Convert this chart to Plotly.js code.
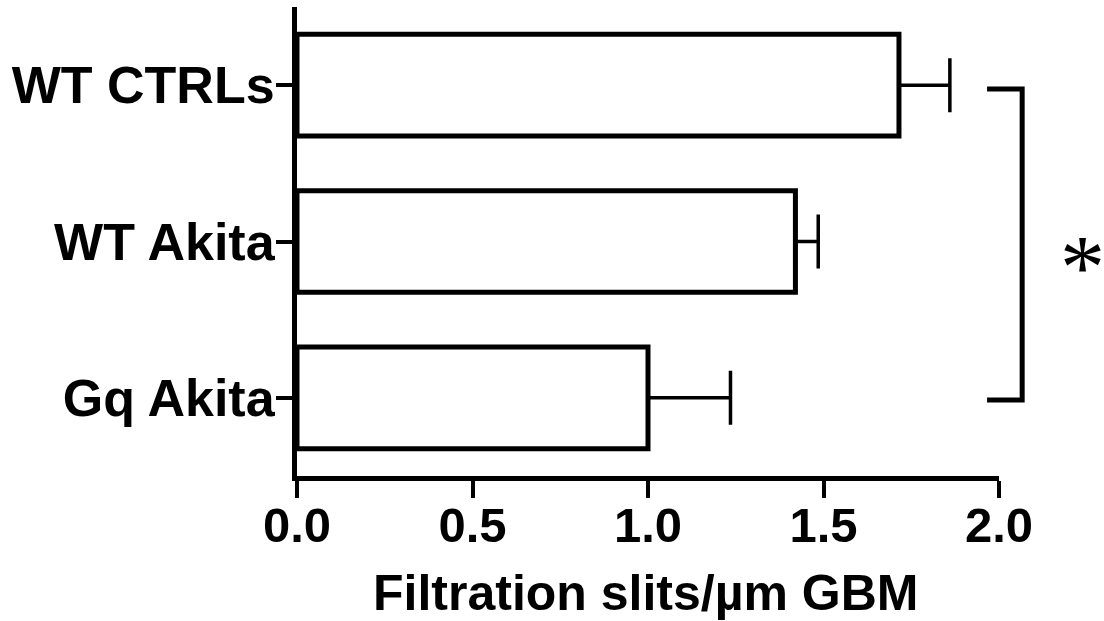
<!DOCTYPE html>
<html>
<head>
<meta charset="utf-8">
<script src="https://cdn.plot.ly/plotly-3.0.1.min.js"></script>
<style>
  html, body { margin: 0; padding: 0; background: #fff; }
  #chart { width: 1104px; height: 621px; }
</style>
</head>
<body>
<div id="chart"></div>
<script>
const categories = ['WT CTRLs', 'WT Akita', 'Gq Akita'];
const means = [1.715, 1.42, 1.00];
const sem = [0.145, 0.065, 0.235];
const xTickVals = [0, 0.5, 1.0, 1.5, 2.0];
const xTickText = ['0.0', '0.5', '1.0', '1.5', '2.0'];
const xTitle = 'Filtration slits/µm GBM';
const sigLabel = '*';

const FONT = 'Liberation Sans, Arial, sans-serif';

const trace = {
  type: 'bar',
  orientation: 'h',
  x: means,
  y: categories,
  width: 0.65,
  marker: { color: '#ffffff', line: { color: '#000000', width: 5 } },
  error_x: {
    type: 'data',
    symmetric: false,
    array: sem,
    arrayminus: sem.map(() => 0),
    color: '#000000',
    thickness: 3.5,
    width: 27
  },
  hoverinfo: 'skip'
};

const layout = {
  width: 1104,
  height: 621,
  margin: { l: 297, r: 105, t: 7, b: 145 },
  paper_bgcolor: '#ffffff',
  plot_bgcolor: '#ffffff',
  showlegend: false,
  font: { family: FONT, color: '#000000' },
  xaxis: {
    range: [0, 2.0],
    tickvals: xTickVals,
    ticktext: xTickText,
    showgrid: false,
    zeroline: false,
    showline: true,
    linecolor: '#000000',
    linewidth: 5,
    ticks: 'outside',
    ticklen: 17,
    tickwidth: 4,
    tickcolor: '#000000',
    ticklabelstandoff: -15,
    tickfont: { family: FONT, size: 49, weight: 'bold', color: '#000000' },
    fixedrange: true
  },
  yaxis: {
    type: 'category',
    categoryorder: 'array',
    categoryarray: categories,
    range: [2.5, -0.5],
    showgrid: false,
    zeroline: false,
    showline: true,
    linecolor: '#000000',
    linewidth: 5,
    ticks: 'outside',
    ticklen: 16,
    tickwidth: 4,
    tickcolor: '#000000',
    ticklabelstandoff: -9,
    tickfont: { family: FONT, size: 52, weight: 'bold', color: '#000000' },
    fixedrange: true
  },
  shapes: [
    {
      type: 'path', xref: 'paper', yref: 'paper',
      path: 'M 0.983 0.825 L 1.033 0.825 L 1.033 0.162 L 0.983 0.162',
      line: { color: '#000000', width: 5 },
      layer: 'above'
    }
  ],
  annotations: [
    {
      xref: 'paper', yref: 'paper', x: 0.497, y: -0.249,
      text: xTitle, showarrow: false,
      font: { family: FONT, size: 50, weight: 'bold', color: '#000000' },
      xanchor: 'center', yanchor: 'middle', borderpad: 0
    },
    {
      xref: 'paper', yref: 'paper', x: 1.152, y: 0.444,
      text: sigLabel, showarrow: false,
      font: { family: 'Liberation Serif, Times New Roman, serif', size: 90, color: '#000000' },
      xanchor: 'right', yanchor: 'middle', borderpad: 0
    }
  ]
};

Plotly.newPlot('chart', [trace], layout, { staticPlot: true, displayModeBar: false });
</script>
</body>
</html>
